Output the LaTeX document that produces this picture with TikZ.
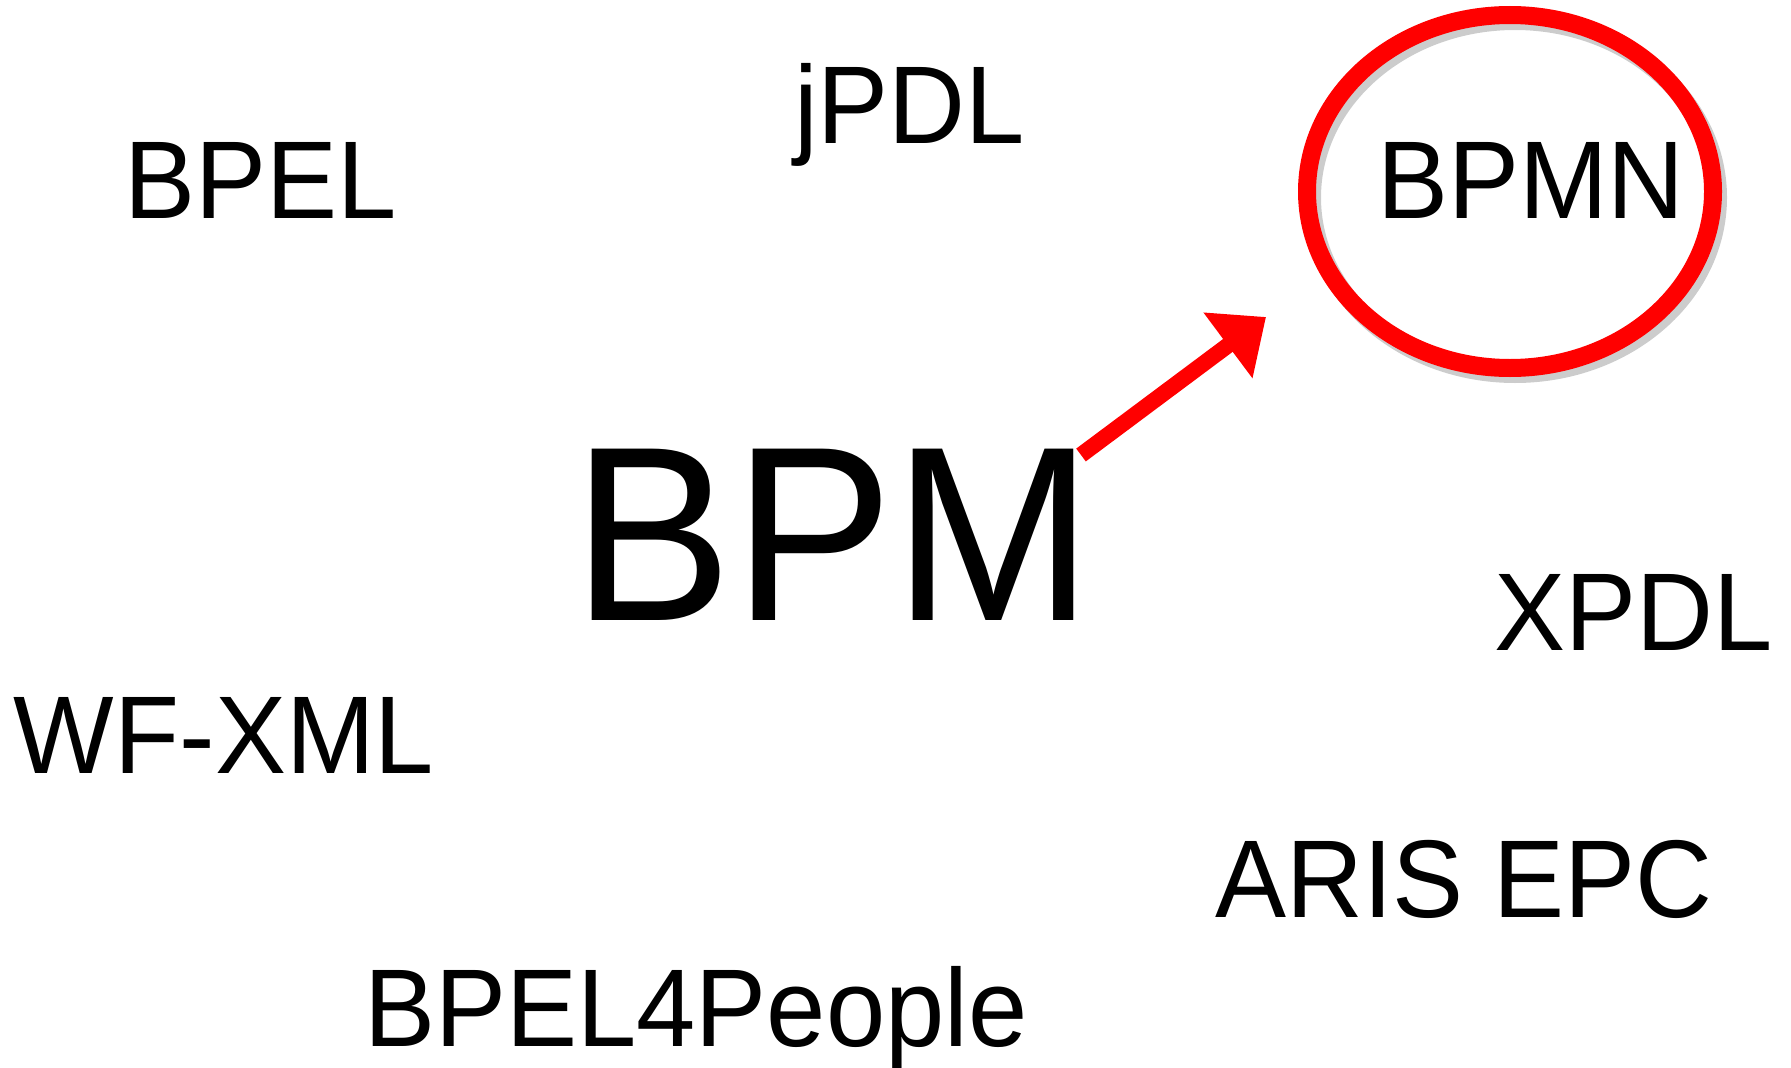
\documentclass[tikz,border=0pt]{standalone}
\usepackage{fontspec}
\setmainfont{Liberation Sans}
\usetikzlibrary{arrows.meta}
\definecolor{ringred}{RGB}{255,0,0}
\definecolor{ringshadow}{RGB}{204,204,204}
% slightly taller capitals for the labels
\newcommand{\tall}[1]{\scalebox{1}[1.038]{#1}}
\tikzset{
  term/.style={anchor=base, inner sep=0pt, outer sep=0pt,
    font=\fontsize{106.5}{120}\selectfont},
  bigterm/.style={anchor=base, inner sep=0pt, outer sep=0pt,
    font=\fontsize{240}{270}\selectfont},
  ring/.style={draw=ringred, line width=18pt},
  ringshade/.style={draw=ringshadow, line width=18pt},
  pointer/.style={draw=ringred, line width=16pt,
    -{Triangle[length=47.5pt, width=79pt]}}
}
\begin{document}
\begin{tikzpicture}[x=1pt, y=-1pt]
  \useasboundingbox (0,0) rectangle (1791,1068);

  % surrounding notations
  \node[term] (bpel)   at (261,218)    {\tall{BPEL}};
  \node[term] (jpdl)   at (909.5,143)  {\tall{jPDL}};
  \node[term] (xpdl)   at (1634,650)   {\tall{XPDL}};
  \node[term] (wfxml)  at (224,773)    {\tall{WF-XML}};
  \node[term] (aris)   at (1464,917)   {\tall{ARIS EPC}};
  \node[term] (bpel4p) at (696,1046)   {\tall{BPEL4People}};

  % central topic
  \node[bigterm] (bpm) at (833,620) {\tall{BPM}};

  % highlighted notation with its ring and soft shadow
  \draw[ringshade] (1515,197.5) ellipse [x radius=203pt, y radius=176.5pt];
  \draw[ring] (1510,191.5) ellipse [x radius=203pt, y radius=176.5pt];
  \node[term] (bpmn) at (1531,218) {\tall{BPMN}};

  % pointer from BPM toward BPMN
  \coordinate (tail) at (1081,455);
  \coordinate (tip)  at (1266,317);
  \draw[pointer] (tail) -- (tip);
\end{tikzpicture}
\end{document}
